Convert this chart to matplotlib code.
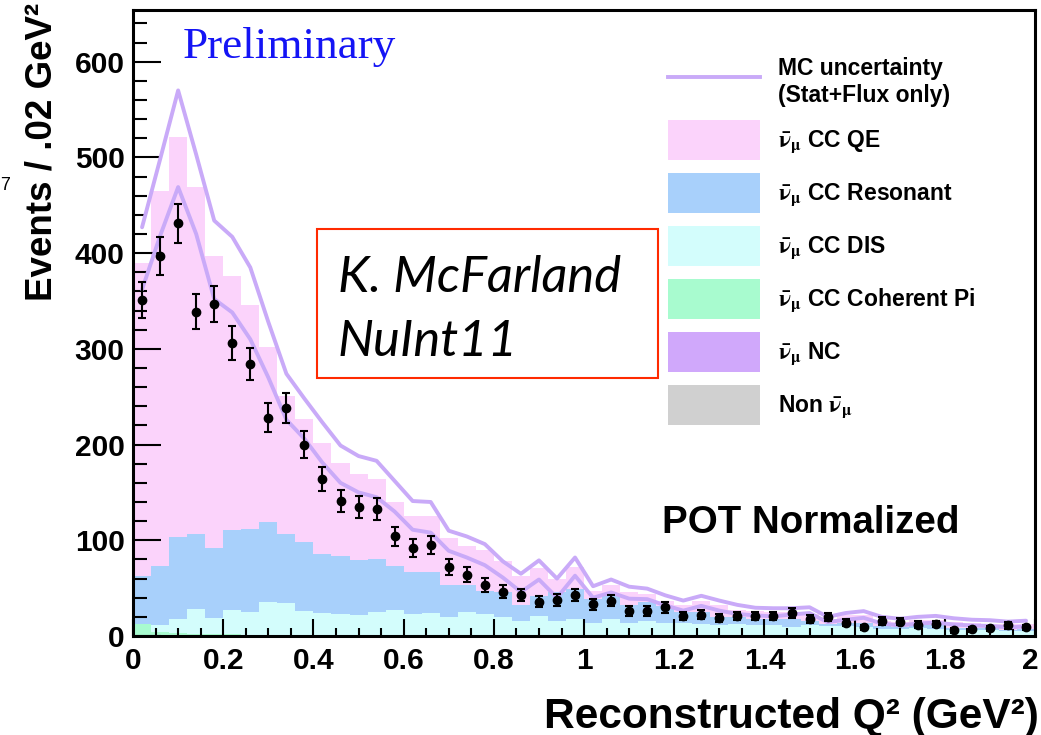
import matplotlib.pyplot as plt
import numpy as np
from matplotlib.lines import Line2D
from matplotlib.patches import Patch, Rectangle
from matplotlib.ticker import MultipleLocator
from matplotlib.transforms import ScaledTranslation

plt.rcParams['font.family'] = ['Liberation Sans', 'DejaVu Sans']
plt.rcParams['font.weight'] = 'bold'
plt.rcParams['mathtext.fontset'] = 'stix'

# 50 bins of 0.04 GeV^2 between 0 and 2
edges = np.linspace(0, 2, 51)
centers = 0.5 * (edges[:-1] + edges[1:])

# Data (events per bin)
data = [351, 397, 431, 339, 347, 306, 284, 228, 238, 200,
        164, 141, 135, 133, 104, 92, 95, 72, 64, 53,
        46, 43, 36, 38, 43, 33, 37, 26, 26, 30,
        21, 22, 18.5, 21, 21, 21, 24, 18, 20, 14,
        9, 16, 15, 12, 12.5, 6, 7, 8, 11, 9]

# MC components, stacked bottom to top
mc_coh = [13, 4, 3, 2.5, 2, 2, 1.5, 1, 1, 1,
          0.5, 0.5, 0.5, 0.5, 0.5, 0, 0, 0, 0, 0,
          0, 0, 0, 0, 0, 0, 0, 0, 0, 0,
          0, 0, 0, 0, 0, 0, 0, 0, 0, 0,
          0, 0, 0, 0, 0, 0, 0, 0, 0, 0]
mc_dis = [0, 8, 15, 25.5, 17, 25, 23.5, 34, 33, 25.5,
          24, 22.5, 21.5, 24.5, 26.5, 23, 24.5, 20, 25, 23,
          20, 16, 21, 16, 18, 14, 18, 14, 16, 14,
          14, 12.5, 11, 12.5, 11, 11, 9, 11.5, 10, 10,
          9, 7.5, 7.5, 8, 7.5, 6, 6, 6, 5, 5]
mc_res = [50, 61, 85, 79, 73, 84, 87, 84, 73, 71.5,
          61.5, 61, 57, 55, 46, 44, 42.5, 33, 28, 24,
          26, 16, 21, 30, 31, 25, 24, 18, 19, 17,
          11, 12.5, 9, 7.5, 7, 7, 9, 4.5, 2.5, 4,
          5, 2.5, 1.5, 3.5, 3.5, 2, 2, 2, 1.6, 2]
mc_qe = [327, 392, 418, 362, 305, 265, 234, 183, 144, 129,
         116, 97, 90, 84, 67, 58, 58, 49, 41, 43,
         32, 31, 29, 14, 23, 8, 11, 14, 9, 6,
         7, 12, 12, 7.5, 8, 7, 7.5, 7, 5.5, 8,
         8, 6, 6, 5.5, 6, 6.6, 6, 5, 6.4, 6]

# MC uncertainty band edges (Stat+Flux)
mc_upper = [427, 498, 570, 503, 434, 417, 385, 328, 274, 248,
            223, 199, 188, 183, 162, 141, 140, 110, 104, 96,
            78, 65, 79, 60, 82, 52, 59, 51.5, 49.5, 42.5,
            37, 42, 37, 32.5, 29.5, 29, 29, 30, 20, 24,
            26, 20, 18, 20, 21, 18.5, 17, 16.5, 15, 16]
mc_lower = [362, 418, 469, 420, 352, 338, 310, 270, 226, 206,
            181, 160, 150, 145, 130, 111, 108, 89, 82, 74,
            61, 46, 59, 40, 63, 40, 45.5, 39, 38.5, 32,
            26.5, 31.5, 26.5, 23, 21.5, 20.5, 22.5, 24, 14.5, 17,
            19, 13, 11, 13, 14, 12, 11, 10.5, 9, 10]

colors = {
    'qe': '#fbd3fb',
    'res': '#a8d0fb',
    'dis': '#d3fdfc',
    'coh': '#a8fbcf',
    'nc': '#d0a8fb',
    'non': '#d0d0d0',
}
band_color = '#c9aaf8'

fig = plt.figure(figsize=(10.41, 7.35), dpi=100)
ax = fig.add_axes([0.1278, 0.1347, 0.8665, 0.8517])

ax.hist([centers] * 4, bins=edges,
        weights=[mc_coh, mc_dis, mc_res, mc_qe],
        stacked=True, histtype='stepfilled', linewidth=0,
        color=[colors['coh'], colors['dis'], colors['res'], colors['qe']],
        zorder=1)

for band in (mc_upper, mc_lower):
    ax.plot(centers, band, color=band_color, lw=2.8,
            solid_joinstyle='round', solid_capstyle='round', zorder=2)

data = np.array(data)
ax.errorbar(centers, data, yerr=np.sqrt(data), fmt='o', color='black',
            ms=6, capsize=3, elinewidth=1.5, capthick=1.5, zorder=3)

ax.set_xlim(0, 2)
ax.set_ylim(0, 654)
ax.xaxis.set_minor_locator(MultipleLocator(0.05))
ax.yaxis.set_major_locator(MultipleLocator(100))
ax.yaxis.set_minor_locator(MultipleLocator(20))
ax.set_xticks(np.arange(0, 2.01, 0.2))
ax.set_xticklabels(['0', '0.2', '0.4', '0.6', '0.8', '1', '1.2', '1.4', '1.6', '1.8', '2'])

ax.tick_params(which='both', direction='in', top=False, right=False,
               labelsize=21.5, width=1.5)
ax.tick_params(axis='y', which='major', length=20, pad=6)
ax.tick_params(axis='y', which='minor', length=10)
ax.tick_params(axis='x', which='major', length=12, pad=8)
ax.tick_params(axis='x', which='minor', length=6)
for sp in ax.spines.values():
    sp.set_linewidth(2.2)

# keep the last x label inside the canvas
last = ax.get_xticklabels()[-1]
last.set_transform(last.get_transform() + ScaledTranslation(-0.05, 0, fig.dpi_scale_trans))

fig.text(0.040, 1 - 152 / 735, 'Events / .02 GeV²', rotation=90,
         ha='center', va='center', fontsize=26.5)
fig.text(1039 / 1041, 1 - 728 / 735, 'Reconstructed Q² (GeV²)',
         ha='right', va='baseline', fontsize=30.5)
fig.text(0.0, 1 - 190 / 735, '7', ha='left', va='baseline', fontsize=13,
         fontweight='normal')

ax.text(0.111, 604, 'Preliminary', color='#1414f5', fontsize=32.5,
        family='Liberation Serif', fontweight='normal', va='baseline')
ax.text(1.173, 107.6, 'POT Normalized', fontsize=27.7, va='baseline')

# annotation box
fig.patches.append(Rectangle((317 / 1041, 1 - 378 / 735), 341 / 1041, 149 / 735,
                             transform=fig.transFigure, fill=False,
                             edgecolor='#ff2a00', linewidth=1.5))
for txt, ybase in [('K. McFarland', 292), ('NuInt11', 356)]:
    fig.text(338 / 1041, 1 - ybase / 735, txt, fontsize=36.5, style='italic',
             fontweight='normal', family=['Lato', 'DejaVu Sans'], va='baseline')

handles = [
    Line2D([], [], color=band_color, lw=2.8),
    Patch(facecolor=colors['qe'], edgecolor='none'),
    Patch(facecolor=colors['res'], edgecolor='none'),
    Patch(facecolor=colors['dis'], edgecolor='none'),
    Patch(facecolor=colors['coh'], edgecolor='none'),
    Patch(facecolor=colors['nc'], edgecolor='none'),
    Patch(facecolor=colors['non'], edgecolor='none'),
]
nubar = r'$\bar{\mathrm{\nu}}_{\mathrm{\mu}}$'
labels = [
    'MC uncertainty\n(Stat+Flux only)',
    nubar + ' CC QE',
    nubar + ' CC Resonant',
    nubar + ' CC DIS',
    nubar + ' CC Coherent Pi',
    nubar + ' NC',
    'Non ' + nubar,
]
ax.legend(handles, labels, loc='upper left',
          bbox_to_anchor=(668 / 1041, 1 - 57 / 735), bbox_transform=fig.transFigure,
          frameon=False, borderpad=0, borderaxespad=0,
          handlelength=4.0, handleheight=2.31, handletextpad=0.79,
          labelspacing=0.567, prop={'size': 16.5, 'weight': 'bold'})

fig.savefig('out.png', dpi=100)
